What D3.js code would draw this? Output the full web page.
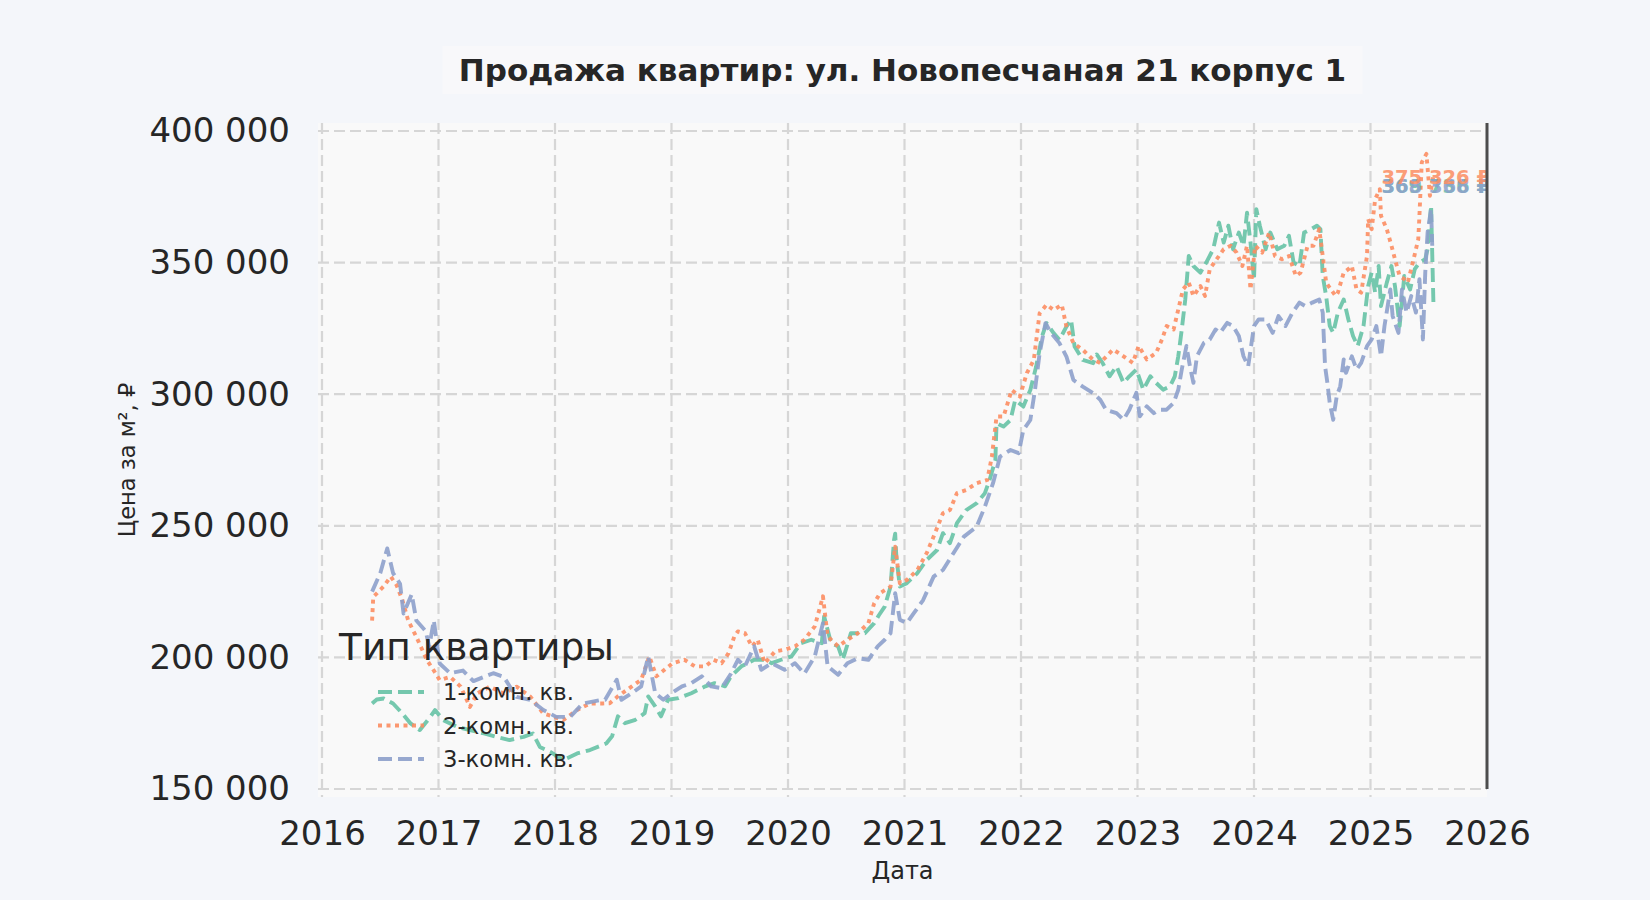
<!DOCTYPE html>
<html>
<head>
<meta charset="utf-8">
<script src="https://cdn.jsdelivr.net/npm/d3@7"></script>
<style>
    body { margin: 0; background: #f4f6fa; }
    svg { display: block; font-family: "DejaVu Sans", sans-serif; }
</style>
</head>
<body>
<svg id="chart" width="1650" height="900"></svg>
<script>
// [decimal year, price per m2]
var oneRoom = [
    [2016.43,182500],[2016.47,184000],[2016.53,184400],[2016.61,182500],[2016.69,178700],[2016.76,174900],
    [2016.84,172400],[2016.93,177400],[2016.97,180000],[2017.04,176200],[2017.16,173600],[2017.27,172400],
    [2017.39,171100],[2017.50,169800],[2017.61,168600],[2017.73,169800],[2017.81,171100],[2017.87,166000],
    [2017.96,164100],[2018.07,161000],[2018.19,163500],[2018.30,164800],[2018.44,167300],[2018.49,170000],
    [2018.54,177600],[2018.60,175000],[2018.69,176300],[2018.77,178800],[2018.80,185200],[2018.86,181400],
    [2018.91,177600],[2018.97,183900],[2019.06,184500],[2019.17,186400],[2019.29,189000],[2019.37,190200],
    [2019.46,189000],[2019.51,192800],[2019.60,196600],[2019.71,199100],[2019.80,199100],[2019.86,197800],
    [2019.94,199100],[2020.03,200400],[2020.11,205400],[2020.20,206700],[2020.29,205400],[2020.31,215600],
    [2020.37,205400],[2020.43,204200],[2020.47,199100],[2020.54,209200],[2020.66,209200],[2020.74,213000],
    [2020.78,216000],[2020.83,219300],[2020.88,226900],[2020.91,244600],[2020.92,247000],[2020.93,238300],
    [2020.96,226900],[2021.02,228200],[2021.11,232000],[2021.19,237000],[2021.28,240800],[2021.33,247200],
    [2021.39,243400],[2021.45,251000],[2021.53,256000],[2021.62,258600],[2021.69,262400],[2021.73,267400],
    [2021.78,275000],[2021.79,289000],[2021.85,287700],[2021.91,290200],[2021.95,297800],[2022.02,295300],
    [2022.08,301600],[2022.13,310500],[2022.18,321900],[2022.22,327000],[2022.28,323200],[2022.33,320700],
    [2022.39,325700],[2022.43,328300],[2022.46,318100],[2022.53,313000],[2022.62,311800],[2022.65,315100],
    [2022.70,311900],[2022.76,306800],[2022.82,310600],[2022.88,304300],[2022.93,306800],[2022.99,309400],
    [2023.05,301700],[2023.11,306800],[2023.16,304300],[2023.22,301700],[2023.28,303000],[2023.32,306800],
    [2023.35,314400],[2023.38,324600],[2023.41,336000],[2023.44,352500],[2023.48,348700],[2023.54,346200],
    [2023.59,350000],[2023.65,355100],[2023.70,365200],[2023.74,357600],[2023.78,364000],[2023.82,355100],
    [2023.87,361400],[2023.91,356400],[2023.94,369000],[2023.97,357600],[2024.00,343700],[2024.02,370300],
    [2024.05,364000],[2024.10,355100],[2024.14,361400],[2024.20,355100],[2024.26,356400],[2024.30,360200],
    [2024.34,350000],[2024.39,348700],[2024.43,361400],[2024.49,362700],[2024.54,364000],[2024.57,362700],
    [2024.59,345000],[2024.62,337000],[2024.65,326000],[2024.68,323300],[2024.72,331000],[2024.77,336000],
    [2024.81,328400],[2024.85,322100],[2024.89,318300],[2024.94,325900],[2024.98,341100],[2025.01,346200],
    [2025.04,338600],[2025.07,348700],[2025.09,333500],[2025.14,342400],[2025.18,348700],[2025.21,341100],
    [2025.25,325900],[2025.29,344900],[2025.34,339800],[2025.38,347500],[2025.42,350000],[2025.47,351300],
    [2025.49,355100],[2025.52,371600],[2025.54,334800]
];

var twoRoom = [
    [2016.43,214000],[2016.44,223000],[2016.53,227000],[2016.59,230700],[2016.64,227500],[2016.69,221800],
    [2016.74,214000],[2016.81,207800],[2016.90,199000],[2016.96,195000],[2017.01,191400],[2017.10,192600],
    [2017.19,188900],[2017.27,181200],[2017.33,186300],[2017.44,188900],[2017.56,186300],[2017.67,188900],
    [2017.79,185000],[2017.90,178700],[2017.99,177400],[2018.07,176200],[2018.19,180000],[2018.30,182500],
    [2018.41,182500],[2018.47,182600],[2018.54,185200],[2018.66,189000],[2018.74,191500],[2018.81,200400],
    [2018.87,192800],[2018.94,195300],[2019.01,197800],[2019.11,199100],[2019.20,196600],[2019.29,196600],
    [2019.36,199100],[2019.43,197800],[2019.49,201600],[2019.54,208000],[2019.57,209900],[2019.63,209200],
    [2019.69,204200],[2019.74,206700],[2019.80,197800],[2019.89,202300],[2019.97,202900],[2020.06,204200],
    [2020.14,206700],[2020.23,211800],[2020.30,223200],[2020.34,208000],[2020.43,204200],[2020.51,206700],
    [2020.60,209200],[2020.69,213000],[2020.74,220600],[2020.79,224400],[2020.88,226900],[2020.92,242100],
    [2020.96,228200],[2021.02,229400],[2021.11,233200],[2021.19,239600],[2021.25,245900],[2021.33,254800],
    [2021.39,256000],[2021.45,262400],[2021.53,263600],[2021.62,266200],[2021.71,267400],[2021.75,276300],
    [2021.79,291500],[2021.85,291500],[2021.92,301600],[2021.99,299100],[2022.05,308000],[2022.11,313000],
    [2022.16,330800],[2022.22,334000],[2022.28,332000],[2022.35,334000],[2022.39,325700],[2022.45,319400],
    [2022.53,316900],[2022.62,313000],[2022.68,311900],[2022.79,317000],[2022.88,314400],[2022.96,311900],
    [2023.01,318300],[2023.08,313200],[2023.16,315700],[2023.21,320800],[2023.25,325900],[2023.31,324600],
    [2023.35,332200],[2023.39,339800],[2023.44,342400],[2023.48,337300],[2023.54,341100],[2023.58,337300],
    [2023.62,347500],[2023.68,351300],[2023.74,355100],[2023.80,356400],[2023.85,353800],[2023.90,348700],
    [2023.94,356400],[2023.97,339800],[2024.01,356400],[2024.07,353800],[2024.13,361400],[2024.18,352500],
    [2024.24,351300],[2024.30,352500],[2024.36,344900],[2024.40,346200],[2024.46,356400],[2024.51,356400],
    [2024.56,362700],[2024.59,352500],[2024.62,342400],[2024.66,339800],[2024.70,337300],[2024.72,338600],
    [2024.77,346200],[2024.81,347500],[2024.84,348700],[2024.88,339800],[2024.92,338600],[2024.97,352500],
    [2024.98,366500],[2025.01,362700],[2025.04,374100],[2025.08,377900],[2025.09,367800],[2025.14,362700],
    [2025.18,356400],[2025.21,351300],[2025.25,344900],[2025.29,343700],[2025.32,342400],[2025.37,351300],
    [2025.41,358900],[2025.42,367800],[2025.44,388100],[2025.48,391300],[2025.51,375400],[2025.54,383000]
];

var threeRoom = [
    [2016.43,225000],[2016.50,232000],[2016.56,241400],[2016.61,232000],[2016.67,228000],[2016.70,216700],
    [2016.77,224000],[2016.81,214000],[2016.89,210000],[2016.92,204000],[2016.96,214000],[2017.01,197700],
    [2017.10,194000],[2017.21,195000],[2017.30,191000],[2017.39,192600],[2017.47,194000],[2017.56,192600],
    [2017.67,185000],[2017.79,183800],[2017.90,180000],[2018.01,177400],[2018.13,177400],[2018.24,182500],
    [2018.39,183800],[2018.43,183900],[2018.53,191500],[2018.57,183900],[2018.66,186400],[2018.74,189000],
    [2018.80,200400],[2018.86,186400],[2018.93,183900],[2019.00,186400],[2019.09,189000],[2019.17,190200],
    [2019.26,192800],[2019.34,189000],[2019.43,188300],[2019.51,193800],[2019.57,199100],[2019.63,196600],
    [2019.71,204200],[2019.77,195300],[2019.86,197800],[2019.97,195300],[2020.06,197800],[2020.14,193800],
    [2020.23,200400],[2020.30,213000],[2020.34,196600],[2020.43,193400],[2020.51,197800],[2020.60,199700],
    [2020.69,199100],[2020.77,204200],[2020.83,206700],[2020.88,209200],[2020.92,224400],[2020.96,214300],
    [2021.02,213000],[2021.08,216800],[2021.16,221800],[2021.25,230700],[2021.33,233200],[2021.42,239600],
    [2021.51,245900],[2021.62,249700],[2021.69,257300],[2021.76,266200],[2021.82,276300],[2021.91,278800],
    [2021.98,277600],[2022.02,286400],[2022.08,290200],[2022.12,301600],[2022.16,315600],[2022.21,327000],
    [2022.26,323200],[2022.33,319400],[2022.39,314300],[2022.45,305400],[2022.53,302900],[2022.62,300400],
    [2022.68,297900],[2022.73,294100],[2022.82,292800],[2022.88,290300],[2022.93,294100],[2022.99,300500],
    [2023.02,291600],[2023.08,295400],[2023.14,292800],[2023.19,294100],[2023.25,294100],[2023.31,296700],
    [2023.35,301700],[2023.38,309400],[2023.42,318300],[2023.45,310600],[2023.48,304300],[2023.51,314400],
    [2023.57,319500],[2023.62,320800],[2023.67,324600],[2023.71,323300],[2023.77,327100],[2023.82,325900],
    [2023.87,322100],[2023.91,314400],[2023.95,310600],[2024.00,325900],[2024.04,328400],[2024.10,328400],
    [2024.16,323300],[2024.21,329700],[2024.27,325900],[2024.33,331000],[2024.39,334800],[2024.44,333500],
    [2024.50,334800],[2024.56,336000],[2024.59,331000],[2024.61,310600],[2024.63,304300],[2024.65,296700],
    [2024.68,290300],[2024.71,299200],[2024.74,303000],[2024.77,313200],[2024.79,308100],[2024.84,314400],
    [2024.88,309400],[2024.92,311900],[2024.97,318300],[2025.01,320800],[2025.05,325900],[2025.09,314400],
    [2025.12,325900],[2025.17,339800],[2025.19,329700],[2025.24,323300],[2025.27,339800],[2025.31,331000],
    [2025.35,337300],[2025.39,331000],[2025.42,343700],[2025.45,320800],[2025.47,346200],[2025.49,361400],
    [2025.52,370300],[2025.53,356400]
];

var seriesNames = ["1-комн. кв.", "2-комн. кв.", "3-комн. кв."];
var seriesColors = ["#66c2a5", "#fc8d62", "#8da0cb"];
var seriesDashes = ["14,6", "4,4.5", "14,6"];
var lastPrices = [369736, 375326, 368368];
var yearTicks = d3.range(2016, 2027);
var priceTicks = [150000, 200000, 250000, 300000, 350000, 400000];

var svg = d3.select("#chart");
var ru = d3.formatLocale({decimal: ",", thousands: " ", grouping: [3], currency: ["", " ₽"]});
var fmt = ru.format(",.0f");

var x = d3.scaleLinear().domain([2016, 2026]).range([322, 1487]);
var y = d3.scaleLinear().domain([150000, 400000]).range([789, 131]);

var plotTop = y(400000) - 8, plotBottom = y(150000) + 8;
var plotLeft = x(2016) - 4, plotRight = x(2026);

// title with its light box
svg.append("rect")
    .attr("x", (plotLeft + plotRight) / 2 - 460).attr("y", 46)
    .attr("width", 920).attr("height", 48)
    .attr("fill", "#fafafa").attr("opacity", 0.7);
svg.append("text")
    .attr("x", (plotLeft + plotRight) / 2).attr("y", 70)
    .attr("text-anchor", "middle").attr("dominant-baseline", "central")
    .style("font-size", "31px").style("font-weight", "bold").attr("fill", "#262626")
    .text("Продажа квартир: ул. Новопесчаная 21 корпус 1");

// plot background
svg.append("rect")
    .attr("x", plotLeft).attr("y", plotTop)
    .attr("width", plotRight - plotLeft).attr("height", plotBottom - plotTop)
    .attr("fill", "#f9f9f9");

svg.append("defs").append("clipPath").attr("id", "plot-clip")
    .append("rect")
    .attr("x", plotLeft).attr("y", plotTop)
    .attr("width", plotRight - plotLeft).attr("height", plotBottom - plotTop);

// grid
var grid = svg.append("g").attr("class", "grid")
    .attr("stroke", "#d6d6d6").attr("stroke-width", 2.2).attr("stroke-dasharray", "11,5");
grid.selectAll("line.h").data(priceTicks).enter().append("line")
    .attr("class", "h")
    .attr("x1", plotLeft).attr("x2", plotRight)
    .attr("y1", function(d) { return y(d); }).attr("y2", function(d) { return y(d); });
grid.selectAll("line.v").data(yearTicks.slice(0, -1)).enter().append("line")
    .attr("class", "v")
    .attr("y1", plotTop).attr("y2", plotBottom)
    .attr("x1", function(d) { return x(d); }).attr("x2", function(d) { return x(d); });

// axes
var yAxis = svg.append("g")
    .attr("transform", "translate(" + x(2016) + ",0)")
    .call(d3.axisLeft(y).tickValues(priceTicks).tickFormat(fmt).tickSize(0).tickPadding(32));
var xAxis = svg.append("g")
    .attr("transform", "translate(0," + y(150000) + ")")
    .call(d3.axisBottom(x).tickValues(yearTicks).tickFormat(d3.format("d")).tickSize(0).tickPadding(32));

[yAxis, xAxis].forEach(function(a) {
    a.select(".domain").remove();
    a.selectAll("text")
        .style("font-family", "DejaVu Sans, sans-serif")
        .style("font-size", "34px")
        .attr("fill", "#262626");
});

svg.append("text")
    .attr("transform", "translate(127," + y(275000) + ") rotate(-90)")
    .attr("text-anchor", "middle").attr("dominant-baseline", "central")
    .style("font-size", "22.5px").attr("fill", "#262626")
    .text("Цена за м², ₽");
svg.append("text")
    .attr("x", (plotLeft + plotRight) / 2).attr("y", 871)
    .attr("text-anchor", "middle").attr("dominant-baseline", "central")
    .style("font-size", "24px").attr("fill", "#262626")
    .text("Дата");

// series
var line = d3.line()
    .x(function(d) { return x(d[0]); })
    .y(function(d) { return y(d[1]); });

var plot = svg.append("g").attr("clip-path", "url(#plot-clip)");
[oneRoom, twoRoom, threeRoom].forEach(function(data, i) {
    plot.append("path")
        .datum(data)
        .attr("d", line)
        .attr("fill", "none")
        .attr("stroke", seriesColors[i])
        .attr("stroke-width", 3.9)
        .attr("stroke-dasharray", seriesDashes[i])
        .attr("stroke-linejoin", "round")
        .attr("opacity", 0.9);
});

// last price labels, green first so blue covers it
[0, 2, 1].forEach(function(i) {
    plot.append("text")
        .attr("x", plotRight + 3)
        .attr("y", y(400000) + (i === 1 ? 46 : 55))
        .attr("text-anchor", "end").attr("dominant-baseline", "central")
        .style("font-size", "19.5px").style("font-weight", "bold")
        .attr("fill", seriesColors[i]).attr("opacity", 0.85)
        .text(fmt(lastPrices[i]) + " ₽");
});

// right edge line
svg.append("line")
    .attr("x1", plotRight).attr("x2", plotRight)
    .attr("y1", plotTop).attr("y2", y(150000))
    .attr("stroke", "#4d4d4d").attr("stroke-width", 3);

// legend
var legend = svg.append("g").attr("class", "legend");
legend.append("text")
    .attr("x", 339).attr("y", 647)
    .attr("dominant-baseline", "central")
    .style("font-size", "37.5px").attr("fill", "#262626")
    .text("Тип квартиры");
var item = legend.selectAll("g.item").data(seriesNames).enter().append("g")
    .attr("class", "item")
    .attr("transform", function(d, i) { return "translate(0," + (692 + i * 33.5) + ")"; });
item.append("line")
    .attr("x1", 378).attr("x2", 424)
    .attr("stroke", function(d, i) { return seriesColors[i]; })
    .attr("stroke-width", 3.9)
    .attr("stroke-dasharray", function(d, i) { return seriesDashes[i]; })
    .attr("opacity", 0.9);
item.append("text")
    .attr("x", 443)
    .attr("dominant-baseline", "central")
    .style("font-size", "22.7px").attr("fill", "#262626")
    .text(function(d) { return d; });
</script>
</body>
</html>
